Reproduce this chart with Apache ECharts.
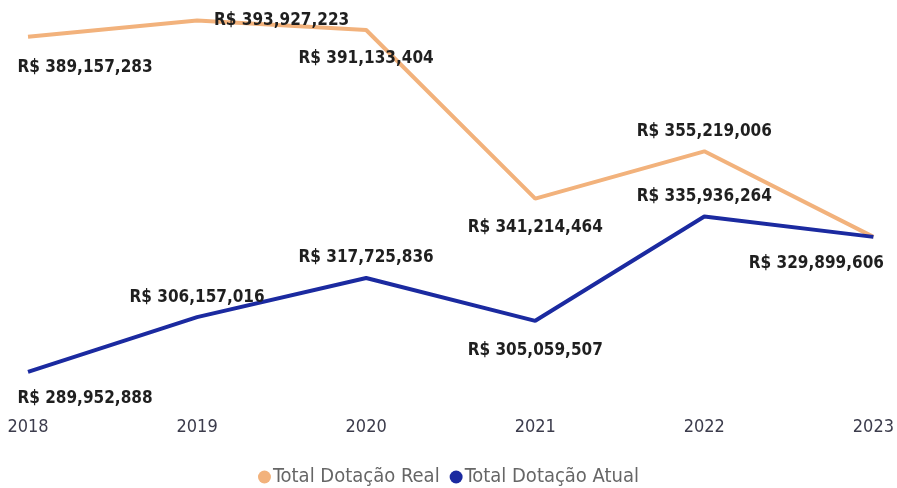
<!DOCTYPE html>
<html>
<head>
<meta charset="utf-8">
<script src="https://cdn.jsdelivr.net/npm/echarts@6/dist/echarts.min.js"></script>
<style>
  html, body { margin: 0; padding: 0; background: #fff; }
  #chart { width: 897px; height: 488px; }
</style>
</head>
<body>
<div id="chart"></div>
<script>
// anos e valores
var years = ['2018', '2019', '2020', '2021', '2022', '2023']
var dotacaoReal = [389157283, 393927223, 391133404, 341214464, 355219006, 329899606]
var dotacaoAtual = [289952888, 306157016, 317725836, 305059507, 335936264, 329899606]

var labelFont = '"Liberation Sans Narrow", "DejaVu Sans Condensed", sans-serif'

function fmt(v) {
  return 'R$ ' + v.toLocaleString('en-US')
}

// onde cada rótulo fica (posição, distância, deslocamento x)
var realLabels = [
  ['bottom', 22, 57], ['right', 17, 0], ['bottom', 20, 0],
  ['bottom', 20, 0], ['top', 11, 0], ['bottom', 18, -57]
]
var atualLabels = [
  ['bottom', 18, 57], ['top', 11, 0], ['top', 12, 0],
  ['bottom', 21, 0], ['top', 11, 0], null
]

function buildData(values, labels) {
  return values.map(function (v, i) {
    var l = labels[i]
    if (!l) return { value: v, label: { show: false } }
    return {
      value: v,
      label: { position: l[0], distance: l[1], offset: [l[2], 0] }
    }
  })
}

var chart = echarts.init(document.getElementById('chart'))
var option = {
  animation: false,
  grid: { left: 28, right: 19, top: 0, height: 405.5 },
  legend: {
    bottom: -4,
    left: 'center',
    icon: 'circle',
    itemWidth: 13,
    itemHeight: 13,
    itemGap: 10,
    textStyle: { color: '#666', fontSize: 20, fontFamily: labelFont, padding: [0, 0, 0, -3] }
  },
  xAxis: {
    type: 'category',
    data: years,
    boundaryGap: false,
    axisLine: { show: false },
    axisTick: { show: false },
    axisLabel: { color: '#3c3c4c', fontSize: 18, fontFamily: labelFont, margin: 13 }
  },
  yAxis: {
    type: 'value',
    min: 280000000,
    max: 400000000,
    show: false,
    splitLine: { show: false }
  },
  series: [
    {
      name: 'Total Dotação Real',
      type: 'line',
      data: buildData(dotacaoReal, realLabels),
      color: '#F2B27C',
      lineStyle: { width: 4 },
      symbol: 'circle',
      symbolSize: 0,
      label: {
        show: true,
        formatter: function (p) { return fmt(p.value) },
        color: '#1f1f1f',
        fontSize: 17,
        fontWeight: 'bold',
        fontFamily: labelFont
      }
    },
    {
      name: 'Total Dotação Atual',
      type: 'line',
      data: buildData(dotacaoAtual, atualLabels),
      color: '#1B2AA0',
      lineStyle: { width: 4 },
      symbol: 'circle',
      symbolSize: 0,
      label: {
        show: true,
        formatter: function (p) { return fmt(p.value) },
        color: '#1f1f1f',
        fontSize: 17,
        fontWeight: 'bold',
        fontFamily: labelFont
      }
    }
  ]
}
chart.setOption(option)
</script>
</body>
</html>
